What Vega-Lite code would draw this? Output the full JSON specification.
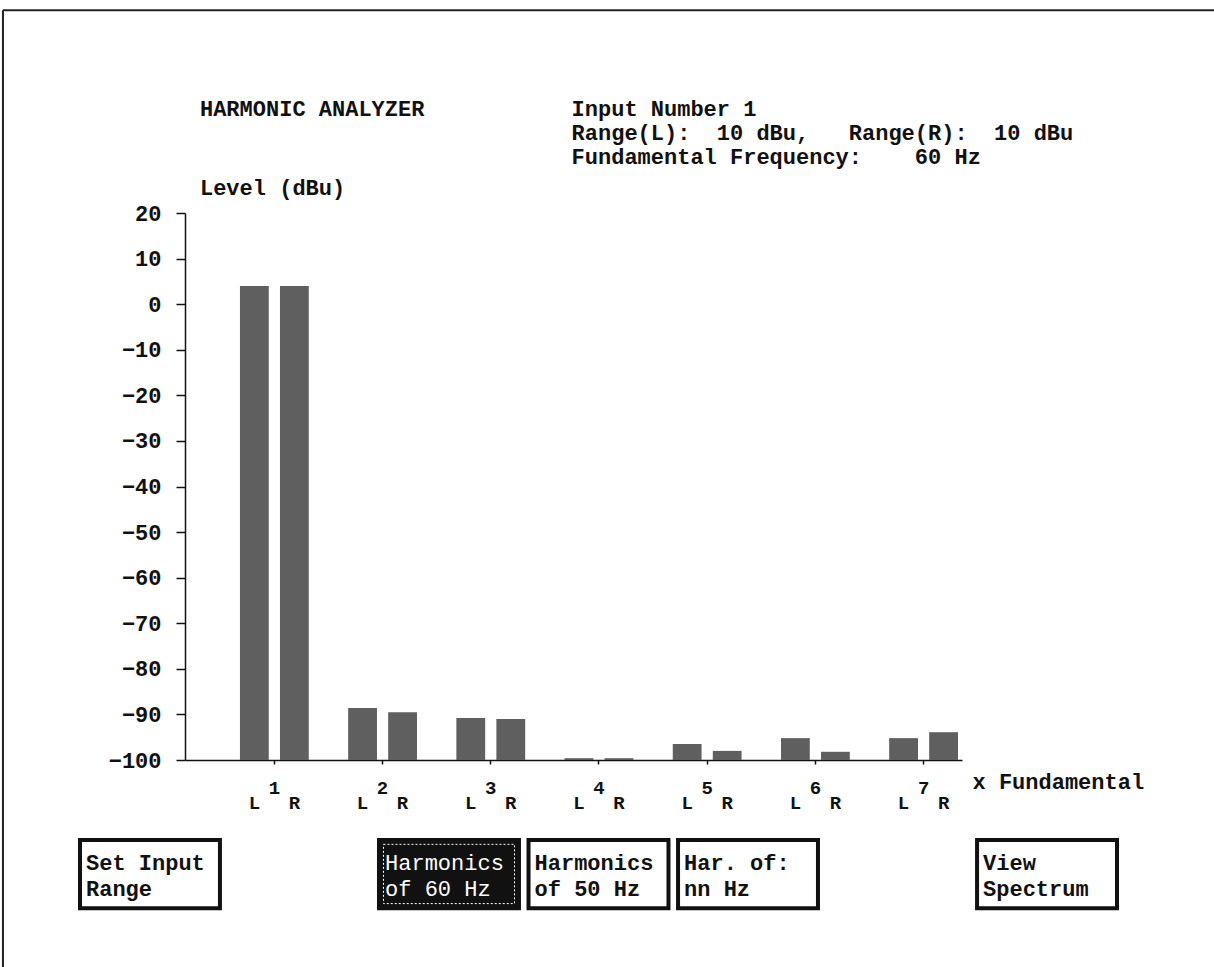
{
  "$schema": "https://vega.github.io/schema/vega-lite/v6.json",
  "width": 777,
  "height": 547,
  "autosize": {"type": "none"},
  "padding": {"left": 185, "top": 213, "right": 252, "bottom": 207},
  "background": "white",
  "config": {
    "view": {"stroke": null},
    "font": "Liberation Mono",
    "text": {"font": "Liberation Mono", "fontWeight": "bold", "fontSize": 22, "color": "#111111"},
    "axis": {
      "grid": false,
      "domainColor": "#111111",
      "domainWidth": 1.5,
      "tickColor": "#111111",
      "tickWidth": 1.5,
      "labelColor": "#111111",
      "titleColor": "#111111",
      "labelFont": "Liberation Mono",
      "titleFont": "Liberation Mono",
      "labelFontWeight": "bold",
      "titleFontWeight": "bold"
    }
  },
  "resolve": {"scale": {"x": "independent"}},
  "layer": [
    {
      "data": {
        "values": [
          {"harmonic": 1, "channel": "L", "level": 4.0},
          {"harmonic": 1, "channel": "R", "level": 4.0},
          {"harmonic": 2, "channel": "L", "level": -88.6},
          {"harmonic": 2, "channel": "R", "level": -89.5},
          {"harmonic": 3, "channel": "L", "level": -90.8},
          {"harmonic": 3, "channel": "R", "level": -91.0},
          {"harmonic": 4, "channel": "L", "level": -99.6},
          {"harmonic": 4, "channel": "R", "level": -99.6},
          {"harmonic": 5, "channel": "L", "level": -96.5},
          {"harmonic": 5, "channel": "R", "level": -98.0},
          {"harmonic": 6, "channel": "L", "level": -95.2},
          {"harmonic": 6, "channel": "R", "level": -98.2},
          {"harmonic": 7, "channel": "L", "level": -95.2},
          {"harmonic": 7, "channel": "R", "level": -93.9}
        ]
      },
      "layer": [
        {
          "mark": {"type": "bar", "color": "#5f5f5f"},
          "encoding": {
            "x": {
              "field": "harmonic",
              "type": "ordinal",
              "scale": {"paddingInner": 0.364, "paddingOuter": 0.2725, "align": 0.932},
              "axis": {
                "title": "x Fundamental",
                "labelAngle": 0,
                "labelFontSize": 19,
                "labelBaseline": "middle",
                "tickSize": 4,
                "labelPadding": 23,
                "titleAngle": 0,
                "titleAlign": "left",
                "titleBaseline": "middle",
                "titleX": 787,
                "titleY": 21,
                "titleFontSize": 22
              }
            },
            "xOffset": {"field": "channel", "type": "nominal", "scale": {"paddingInner": 0.28, "paddingOuter": 0}},
            "y": {
              "field": "level",
              "type": "quantitative",
              "scale": {"domain": [-100, 20], "nice": false, "zero": false},
              "axis": {
                "title": null,
                "values": [-100, -90, -80, -70, -60, -50, -40, -30, -20, -10, 0, 10, 20],
                "labelFontSize": 22,
                "tickSize": 9,
                "labelPadding": 15
              }
            },
            "y2": {"datum": -100}
          }
        },
        {
          "mark": {"type": "text", "fontSize": 19, "baseline": "middle"},
          "encoding": {
            "x": {"field": "harmonic", "type": "ordinal"},
            "xOffset": {"field": "channel", "type": "nominal"},
            "y": {"datum": -109.43},
            "text": {"field": "channel", "type": "nominal"}
          }
        },
        {
          "data": {"values": [{"block": "title"}]},
          "mark": {"type": "text", "text": "HARMONIC ANALYZER", "align": "left", "baseline": "alphabetic", "dx": -40},
          "encoding": {
            "x": {"datum": 1, "type": "ordinal", "bandPosition": 0},
            "y": {"datum": 41.3}
          }
        },
        {
          "data": {"values": [{"block": "status"}]},
          "mark": {
            "type": "text",
            "text": "Input Number 1\nRange(L):\u00a0\u00a010 dBu,\u00a0\u00a0\u00a0Range(R):\u00a0\u00a010 dBu\nFundamental Frequency:\u00a0\u00a0\u00a0\u00a060 Hz",
            "lineBreak": "\n",
            "lineHeight": 24,
            "align": "left",
            "baseline": "alphabetic",
            "dx": 7
          },
          "encoding": {
            "x": {"datum": 4, "type": "ordinal", "bandPosition": 0},
            "y": {"datum": 41.3}
          }
        },
        {
          "data": {"values": [{"block": "ytitle"}]},
          "mark": {"type": "text", "text": "Level (dBu)", "align": "left", "baseline": "alphabetic", "dx": -40},
          "encoding": {
            "x": {"datum": 1, "type": "ordinal", "bandPosition": 0},
            "y": {"datum": 23.95}
          }
        },
        {
          "data": {"values": [{"frame": "top"}]},
          "mark": {"type": "rule", "color": "#222222", "strokeWidth": 2, "xOffset": -237, "x2Offset": 900},
          "encoding": {
            "x": {"datum": 1, "type": "ordinal", "bandPosition": 0},
            "x2": {"datum": 7},
            "y": {"datum": 64.5}
          }
        },
        {
          "data": {"values": [{"frame": "left"}]},
          "mark": {"type": "rule", "color": "#222222", "strokeWidth": 2, "xOffset": -237},
          "encoding": {
            "x": {"datum": 1, "type": "ordinal", "bandPosition": 0},
            "y": {"datum": 64.5},
            "y2": {"datum": -150}
          }
        }
      ]
    },
    {
      "data": {
        "values": [
          {"slot": 1, "label": "Set Input\nRange", "state": "normal"},
          {"slot": 3, "label": "Harmonics\nof 60 Hz", "state": "selected"},
          {"slot": 4, "label": "Harmonics\nof 50 Hz", "state": "normal"},
          {"slot": 5, "label": "Har. of:\nnn Hz", "state": "normal"},
          {"slot": 7, "label": "View\nSpectrum", "state": "normal"}
        ]
      },
      "layer": [
        {
          "mark": {"type": "rect", "stroke": "#111111", "strokeWidth": 4},
          "encoding": {
            "x": {
              "field": "slot",
              "type": "ordinal",
              "scale": {"domain": [1, 2, 3, 4, 5, 6, 7], "range": [-105, 932], "paddingInner": 0.064, "paddingOuter": 0},
              "axis": null
            },
            "y": {"datum": -117.55},
            "y2": {"datum": -132.5},
            "fill": {
              "field": "state",
              "type": "nominal",
              "scale": {"domain": ["normal", "selected"], "range": ["#ffffff", "#111111"]},
              "legend": null
            }
          }
        },
        {
          "transform": [{"filter": "datum.state === 'selected'"}],
          "mark": {"type": "rect", "width": 131, "fill": null, "stroke": "#ffffff", "strokeWidth": 1, "strokeDash": [2, 2]},
          "encoding": {
            "x": {"field": "slot", "type": "ordinal"},
            "y": {"datum": -118.5},
            "y2": {"datum": -131.5}
          }
        },
        {
          "transform": [{"filter": "datum.state !== 'selected'"}],
          "mark": {"type": "text", "align": "left", "baseline": "alphabetic", "lineBreak": "\n", "lineHeight": 26, "dx": 6, "color": "#111111"},
          "encoding": {
            "x": {"field": "slot", "type": "ordinal", "bandPosition": 0},
            "y": {"datum": -124.1},
            "text": {"field": "label", "type": "nominal"}
          }
        },
        {
          "transform": [{"filter": "datum.state === 'selected'"}],
          "mark": {"type": "text", "align": "left", "baseline": "alphabetic", "lineBreak": "\n", "lineHeight": 26, "dx": 6, "color": "#ffffff", "fontWeight": "normal"},
          "encoding": {
            "x": {"field": "slot", "type": "ordinal", "bandPosition": 0},
            "y": {"datum": -124.1},
            "text": {"field": "label", "type": "nominal"}
          }
        }
      ]
    }
  ]
}
